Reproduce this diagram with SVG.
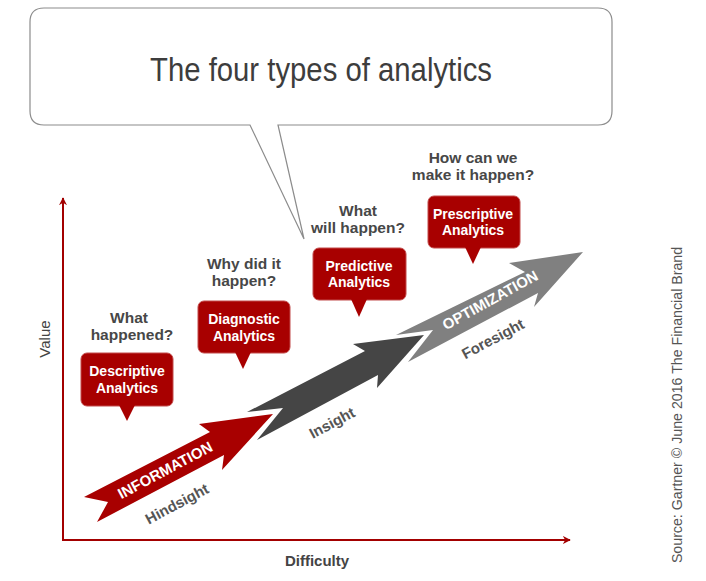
<svg xmlns="http://www.w3.org/2000/svg" width="706" height="581" viewBox="0 0 706 581">
  <defs>
    <style>
      .q { font-family: "Liberation Sans", Arial, sans-serif; font-size: 15.5px; font-weight: bold; fill: #474747; text-anchor: middle; }
      .bt { font-family: "Liberation Sans", Arial, sans-serif; font-size: 14px; font-weight: bold; fill: #ffffff; text-anchor: middle; }
      .box { fill: #a80000; stroke: #c24a4a; stroke-width: 1; }
      .ptr { fill: #a80000; }
      .al { font-family: "Liberation Sans", Arial, sans-serif; font-size: 15px; font-weight: bold; text-anchor: middle; }
      .axis { stroke: #a30000; stroke-width: 2; fill: none; }
    </style>
    <marker id="ah" viewBox="0 0 10 10" refX="9" refY="5" markerWidth="8" markerHeight="8" markerUnits="userSpaceOnUse" orient="auto">
      <path d="M0,0 L10,5 L0,10 L3,5 Z" fill="#a30000"/>
    </marker>
  </defs>
  <rect width="706" height="581" fill="#ffffff"/>

  <!-- speech bubble title -->
  <g id="title">
    <path d="M44,8 H598 Q612,8 612,22 V111 Q612,125 598,125 H278 L304,239 L250,125 H44 Q30,125 30,111 V22 Q30,8 44,8 Z" fill="#ffffff" stroke="#8c8c8c" stroke-width="1.2"/>
    <text x="321" y="81" font-family="Liberation Sans, Arial, sans-serif" font-size="34" fill="#3d3d3d" text-anchor="middle" textLength="342" lengthAdjust="spacingAndGlyphs">The four types of analytics</text>
  </g>

  <!-- axes -->
  <g id="axes">
    <path class="axis" d="M63,540 V198" marker-end="url(#ah)"/>
    <path class="axis" d="M62,540 H570" marker-end="url(#ah)"/>
    <text x="0" y="0" transform="translate(50,339) rotate(-90)" font-family="Liberation Sans, Arial, sans-serif" font-size="15" fill="#444444" text-anchor="middle">Value</text>
    <text x="317" y="566" class="al" fill="#444444">Difficulty</text>
    <text x="0" y="0" transform="translate(682,405) rotate(-90)" font-family="Liberation Sans, Arial, sans-serif" font-size="14.2" fill="#555555" text-anchor="middle">Source: Gartner © June 2016 The Financial Brand</text>
  </g>

  <!-- arrows -->
  <g id="connectors">
    <polygon id="arrow-information" points="84,497 210,432 199,424 273,414 222,470 224,455 97,522 108,502" fill="#a80000"/>
    <polygon id="arrow-insight" points="247,412 365,351 353,344 424,335 377,388 378,375 257,440 283,408" fill="#454545"/>
    <polygon id="arrow-optimization" points="396,335 525,272 509,263 583,252 534,307 538,293 408,362 433,330" fill="#808080"/>
    <g transform="translate(165,470) rotate(-28)"><text class="al" x="0" y="5.4" fill="#ffffff">INFORMATION</text></g>
    <g transform="translate(490,300) rotate(-29)"><text class="al" x="0" y="5.4" fill="#ffffff">OPTIMIZATION</text></g>
    <g transform="translate(177,504) rotate(-28)"><text class="al" x="0" y="5" fill="#555555">Hindsight</text></g>
    <g transform="translate(332,423) rotate(-28)"><text class="al" x="0" y="5" fill="#555555">Insight</text></g>
    <g transform="translate(493,339) rotate(-28)"><text class="al" x="0" y="5" fill="#555555">Foresight</text></g>
  </g>

  <!-- nodes -->
  <g id="descriptive">
    <text class="q" x="129" y="323">What</text>
    <text class="q" x="132" y="340">happened?</text>
    <rect class="box" x="81" y="353" width="92" height="53" rx="6"/>
    <polygon class="ptr" points="119,405 135,405 127,421"/>
    <text class="bt" x="127" y="376">Descriptive</text>
    <text class="bt" x="127" y="393">Analytics</text>
  </g>
  <g id="diagnostic">
    <text class="q" x="244" y="269">Why did it</text>
    <text class="q" x="244" y="286">happen?</text>
    <rect class="box" x="198" y="301" width="92" height="52" rx="6"/>
    <polygon class="ptr" points="235,352 251,352 243,369"/>
    <text class="bt" x="244" y="324">Diagnostic</text>
    <text class="bt" x="244" y="341">Analytics</text>
  </g>
  <g id="predictive">
    <text class="q" x="358" y="216">What</text>
    <text class="q" x="358" y="233">will happen?</text>
    <rect class="box" x="313" y="248" width="93" height="52" rx="6"/>
    <polygon class="ptr" points="351,299 367,299 359,317"/>
    <text class="bt" x="359" y="271">Predictive</text>
    <text class="bt" x="359" y="287">Analytics</text>
  </g>
  <g id="prescriptive">
    <text class="q" x="473" y="163">How can we</text>
    <text class="q" x="473" y="180">make it happen?</text>
    <rect class="box" x="428" y="196" width="92" height="52" rx="6"/>
    <polygon class="ptr" points="465,247 481,247 473,264"/>
    <text class="bt" x="473" y="219">Prescriptive</text>
    <text class="bt" x="473" y="235">Analytics</text>
  </g>
</svg>
